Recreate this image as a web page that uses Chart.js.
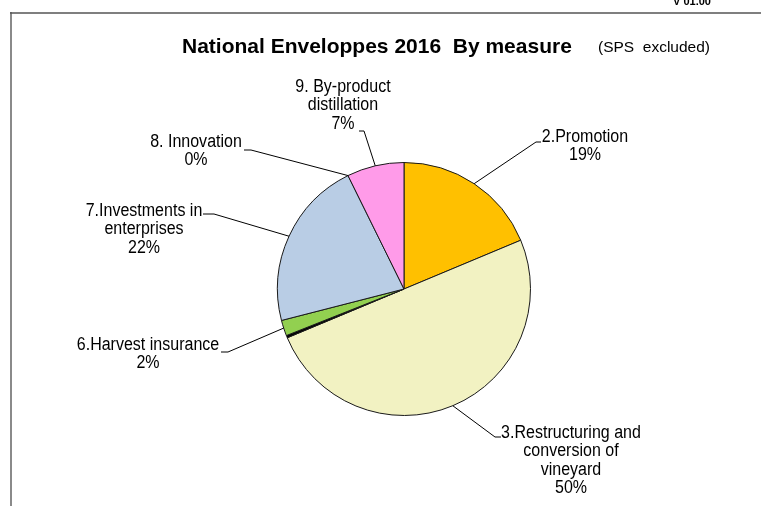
<!DOCTYPE html>
<html><head><meta charset="utf-8">
<script src="https://cdn.jsdelivr.net/npm/chart.js@4/dist/chart.umd.min.js"></script>
<style>html,body{margin:0;padding:0;background:#fff;overflow:hidden}canvas{display:block}</style>
</head><body>
<canvas id="c" width="761" height="506"></canvas>
<script>
// ---- data ----
const categories = ["2.Promotion", "3.Restructuring and conversion of vineyard", "Other", "6.Harvest insurance", "7.Investments in enterprises", "8. Innovation", "9. By-product distillation"];
const values = [18.7, 50.0, 0.3, 2.0, 21.7, 0.0, 7.3];
const percentLabels = ["19%", "50%", "", "2%", "22%", "0%", "7%"];
const labelLines = [["2.Promotion"], ["3.Restructuring and", "conversion of", "vineyard"], [], ["6.Harvest insurance"], ["7.Investments in", "enterprises"], ["8. Innovation"], ["9. By-product", "distillation"]];
const sliceColors = ["#FFC000", "#F2F2C2", "#000000", "#92D050", "#B9CDE5", "#FFFFFF", "#FF9BE9"];
const titleMain = "National Enveloppes 2016  By measure";
const titleSub = "(SPS  excluded)";
const versionText = "V 01.00";

// ---- label layout (positions only) ----
const labelLayout = [
  {cx: 585, y: 137, lead: [[541, 142], [536, 142]]},
  {cx: 571, y: 433, lead: [[501, 437], [495, 437]]},
  null,
  {cx: 148, y: 345, lead: [[221, 352], [228, 352]]},
  {cx: 144, y: 211, lead: [[203, 214], [214, 214]]},
  {cx: 196, y: 142, lead: [[244, 150], [251, 150]]},
  {cx: 343, y: 87, lead: [[359, 131], [364, 131]]}
];

const FONT = "'Liberation Sans', Arial, sans-serif";

const decorPlugin = {
  id: 'decor',
  beforeDraw(chart) {
    const ctx = chart.ctx;
    ctx.save();
    ctx.fillStyle = '#fff';
    ctx.fillRect(0, 0, chart.width, chart.height);
    // frame
    ctx.strokeStyle = '#8a8a8a';
    ctx.lineWidth = 2;
    ctx.beginPath(); ctx.moveTo(11, 12); ctx.lineTo(11, 506); ctx.stroke();
    ctx.strokeStyle = '#555';
    ctx.lineWidth = 1.5;
    ctx.beginPath(); ctx.moveTo(10, 13); ctx.lineTo(761, 13); ctx.stroke();
    // version
    ctx.fillStyle = '#000';
    ctx.font = "bold 11px " + FONT;
    ctx.textAlign = 'center';
    ctx.textBaseline = 'alphabetic';
    ctx.fillText(versionText, 692, 5);
    // title
    ctx.textAlign = 'left';
    ctx.textBaseline = 'middle';
    ctx.font = "bold 21px " + FONT;
    ctx.fillText(titleMain, 182, 47);
    ctx.font = "15.5px " + FONT;
    ctx.fillText(titleSub, 598, 48);
    ctx.restore();
  },
  afterDraw(chart) {
    const ctx = chart.ctx;
    const meta = chart.getDatasetMeta(0);
    ctx.save();
    ctx.strokeStyle = '#000';
    ctx.lineWidth = 1;
    ctx.fillStyle = '#000';
    meta.data.forEach((arc, i) => {
      const L = labelLayout[i];
      if (!L) return;
      const p = arc.getProps(['x', 'y', 'startAngle', 'endAngle', 'outerRadius'], true);
      const mid = (p.startAngle + p.endAngle) / 2;
      const ax = p.x + Math.cos(mid) * p.outerRadius;
      const ay = p.y + Math.sin(mid) * p.outerRadius;
      ctx.beginPath();
      ctx.moveTo(L.lead[0][0], L.lead[0][1]);
      ctx.lineTo(L.lead[1][0], L.lead[1][1]);
      ctx.lineTo(ax, ay);
      ctx.stroke();
      const lines = labelLines[i].concat([percentLabels[i]]);
      ctx.font = "18px " + FONT;
      ctx.textAlign = 'center';
      ctx.textBaseline = 'middle';
      lines.forEach((t, k) => {
        ctx.save();
        ctx.translate(L.cx, L.y + k * 18.4);
        ctx.scale(0.89, 1);
        ctx.fillText(t, 0, 0);
        ctx.restore();
      });
    });
    ctx.restore();
  }
};

new Chart(document.getElementById('c'), {
  type: 'pie',
  data: {
    labels: categories,
    datasets: [{
      data: values,
      backgroundColor: sliceColors,
      borderColor: '#1a1a1a',
      borderWidth: 1,
      borderAlign: 'center'
    }]
  },
  options: {
    responsive: false,
    animation: false,
    devicePixelRatio: 1,
    layout: {padding: {left: 204, right: 157, top: 162, bottom: 90}},
    plugins: {legend: {display: false}, tooltip: {enabled: false}, title: {display: false}}
  },
  plugins: [decorPlugin]
});
</script>
</body></html>
